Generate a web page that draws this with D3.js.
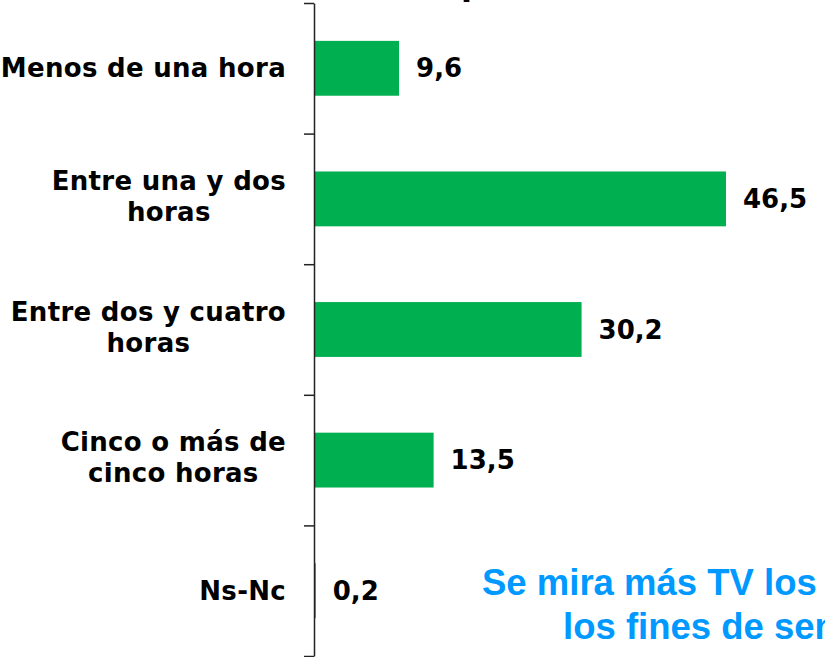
<!doctype html>
<html>
  <head>
    <meta charset="utf8">
    <script src="https://d3js.org/d3.v7.min.js"></script>
    <style type="text/css">
      body { margin: 0; background: #fff; }
      svg { display: block; }
    </style>
  </head>
  <body>
    <script type="text/javascript">
      const w = 825;
      const h = 657;
      const axisX = 314;

      // values
      const categories = [
        ['Menos de una hora'],
        ['Entre una y dos', 'horas'],
        ['Entre dos y cuatro', 'horas'],
        ['Cinco o más de', 'cinco horas'],
        ['Ns-Nc']
      ];
      const values = [9.6, 46.5, 30.2, 13.5, 0.2];
      const valueLabels = ['9,6', '46,5', '30,2', '13,5', '0,2'];
      const noteLines = ['Se mira más TV los', 'los fines de semana'];

      const labelFont = 'Verdana, "DejaVu Sans", sans-serif';

      const svg = d3.select('body')
        .append('svg')
        .attr('width', w)
        .attr('height', h);

      const idx = d3.range(categories.length);

      const yScale = d3.scaleBand()
        .domain(idx)
        .range([3, 656])
        .paddingInner(0.58)
        .paddingOuter(0.29);

      const xScale = d3.scaleLinear()
        .domain([0, 50])
        .range([axisX, axisX + 443]);

      // cropped title, only the descender shows
      svg.append('text')
        .attr('x', 461)
        .attr('y', -5)
        .attr('font-family', labelFont)
        .attr('font-weight', 'bold')
        .attr('font-size', '32px')
        .attr('fill', '#000')
        .text('p');

      // bars
      svg.selectAll('rect.bar')
        .data(values)
        .enter()
        .append('rect')
        .attr('class', 'bar')
        .attr('x', xScale(0))
        .attr('y', (d, i) => yScale(i))
        .attr('width', (d) => xScale(d) - xScale(0))
        .attr('height', yScale.bandwidth())
        .attr('fill', '#00B050');

      // axis with ticks at band boundaries
      const tickScale = d3.scaleLinear()
        .domain([0, categories.length])
        .range([yScale.range()[0], yScale.range()[1]]);

      const axis = svg.append('g')
        .attr('transform', 'translate(' + axisX + ',0)')
        .call(d3.axisLeft(tickScale)
          .tickValues(d3.range(categories.length + 1))
          .tickSize(10)
          .tickSizeOuter(0)
          .tickFormat(''));
      axis.select('.domain').attr('stroke', '#222').attr('stroke-width', 1.5);
      axis.selectAll('.tick line').attr('stroke', '#222').attr('stroke-width', 1.5);

      // category labels: block right-aligned, lines centred
      categories.forEach((lines, i) => {
        const cy = yScale(i) + yScale.bandwidth() / 2;
        const g = svg.append('g');
        const base = lines.length > 1 ? cy - 9 : cy + 9;
        const texts = lines.map((s, k) => g.append('text')
          .attr('y', base + k * 31)
          .attr('font-family', labelFont)
          .attr('font-weight', 'bold')
          .attr('font-size', '26px')
          .attr('letter-spacing', '0.3px')
          .attr('fill', '#000')
          .attr('text-anchor', 'middle')
          .text(s));
        const maxW = d3.max(texts, (t) => t.node().getComputedTextLength());
        texts.forEach((t) => t.attr('x', 286 - maxW / 2));
      });

      // value labels
      svg.selectAll('text.val')
        .data(values)
        .enter()
        .append('text')
        .attr('class', 'val')
        .attr('x', (d) => xScale(d) + 17)
        .attr('y', (d, i) => yScale(i) + yScale.bandwidth() / 2 + 9)
        .attr('font-family', labelFont)
        .attr('font-weight', 'bold')
        .attr('font-size', '26px')
        .attr('fill', '#000')
        .text((d, i) => valueLabels[i]);

      // blue note, cut by the right edge
      const noteX = [482, 563];
      const noteY = [595, 639];
      svg.selectAll('text.note')
        .data(noteLines)
        .enter()
        .append('text')
        .attr('class', 'note')
        .attr('x', (d, i) => noteX[i])
        .attr('y', (d, i) => noteY[i])
        .attr('font-family', 'Arial, "Liberation Sans", sans-serif')
        .attr('font-weight', 'bold')
        .attr('font-size', '36.5px')
        .attr('fill', '#0099FF')
        .text((d) => d);
    </script>
  </body>
</html>
